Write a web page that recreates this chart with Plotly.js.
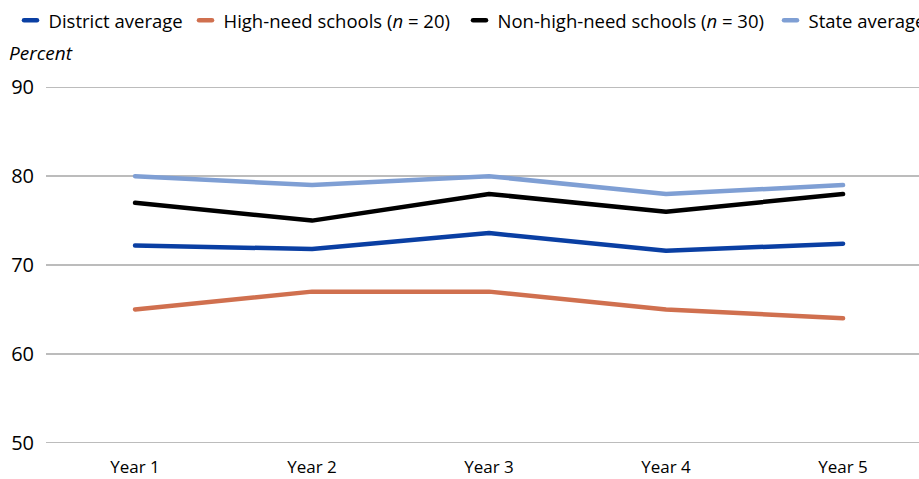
<!DOCTYPE html>
<html>
<head>
<meta charset="utf-8">
<script src="https://cdn.plot.ly/plotly-3.0.1.min.js"></script>
<style>
html,body{margin:0;padding:0;background:#fff;overflow:hidden}
#chart{width:919px;height:479px}
.scatterlayer .js-line{stroke-linecap:round;stroke-linejoin:round}
.legendlines path{stroke-linecap:round;d:path("M15.5,0h13")}
</style>
</head>
<body>
<div id="chart"></div>
<script>
const years = ["Year 1", "Year 2", "Year 3", "Year 4", "Year 5"];
const seriesNames = ["District average", "High-need schools (<i>n</i> = 20)", "Non-high-need schools (<i>n</i> = 30)", "State average"];
const districtAvg = [72.2, 71.8, 73.6, 71.6, 72.4];
const highNeed = [65, 67, 67, 65, 64];
const nonHighNeed = [77, 75, 78, 76, 78];
const stateAvg = [80, 79, 80, 78, 79];
const yTicks = [50, 60, 70, 80, 90];
const colors = ["#0a3fa3", "#d0704f", "#000000", "#7f9fd4"];

const values = [districtAvg, highNeed, nonHighNeed, stateAvg];
const font = "'Open Sans', sans-serif";
const legendIds = ["legend", "legend2", "legend3", "legend4"];
const legendX = [8.5, 183.5, 457.5, 768.5].map(px => (px - 46) / 873);

const traces = values.map((v, i) => ({
  x: years, y: v, type: "scatter", mode: "lines", name: seriesNames[i],
  legend: legendIds[i],
  line: {color: colors[i], width: 4.5},
  hoverinfo: "skip"
}));

const layout = {
  width: 919, height: 479,
  margin: {l: 46, r: 0, t: 82.5, b: 31.5, autoexpand: false},
  paper_bgcolor: "#fff", plot_bgcolor: "#fff",
  font: {family: font, size: 17, color: "#000"},
  showlegend: true,
  xaxis: {type: "category", range: [-0.503, 4.429], showgrid: false, zeroline: false,
          showline: false, ticks: "", tickfont: {size: 17}, ticklabelstandoff: 8, fixedrange: true},
  yaxis: {range: [49.5, 90.5], tickvals: yTicks, showgrid: true, gridcolor: "#bcbcbc", gridwidth: 1.5,
          zeroline: false, showline: false, ticks: "", tickfont: {size: 20}, ticklabelstandoff: 11, fixedrange: true},
  annotations: [{text: "<i>Percent</i>", xref: "paper", yref: "paper", x: -0.0447, y: 1.083,
                 xanchor: "left", yanchor: "middle", showarrow: false, font: {size: 19}}]
};
legendIds.forEach((id, i) => {
  layout[id] = {orientation: "h", x: legendX[i], xanchor: "left", y: 1.223, yanchor: "top",
                font: {family: font, size: 18.5, color: "#000"}, bgcolor: "rgba(0,0,0,0)"};
});
Plotly.newPlot("chart", traces, layout, {displayModeBar: false, staticPlot: true});
</script>
</body>
</html>
